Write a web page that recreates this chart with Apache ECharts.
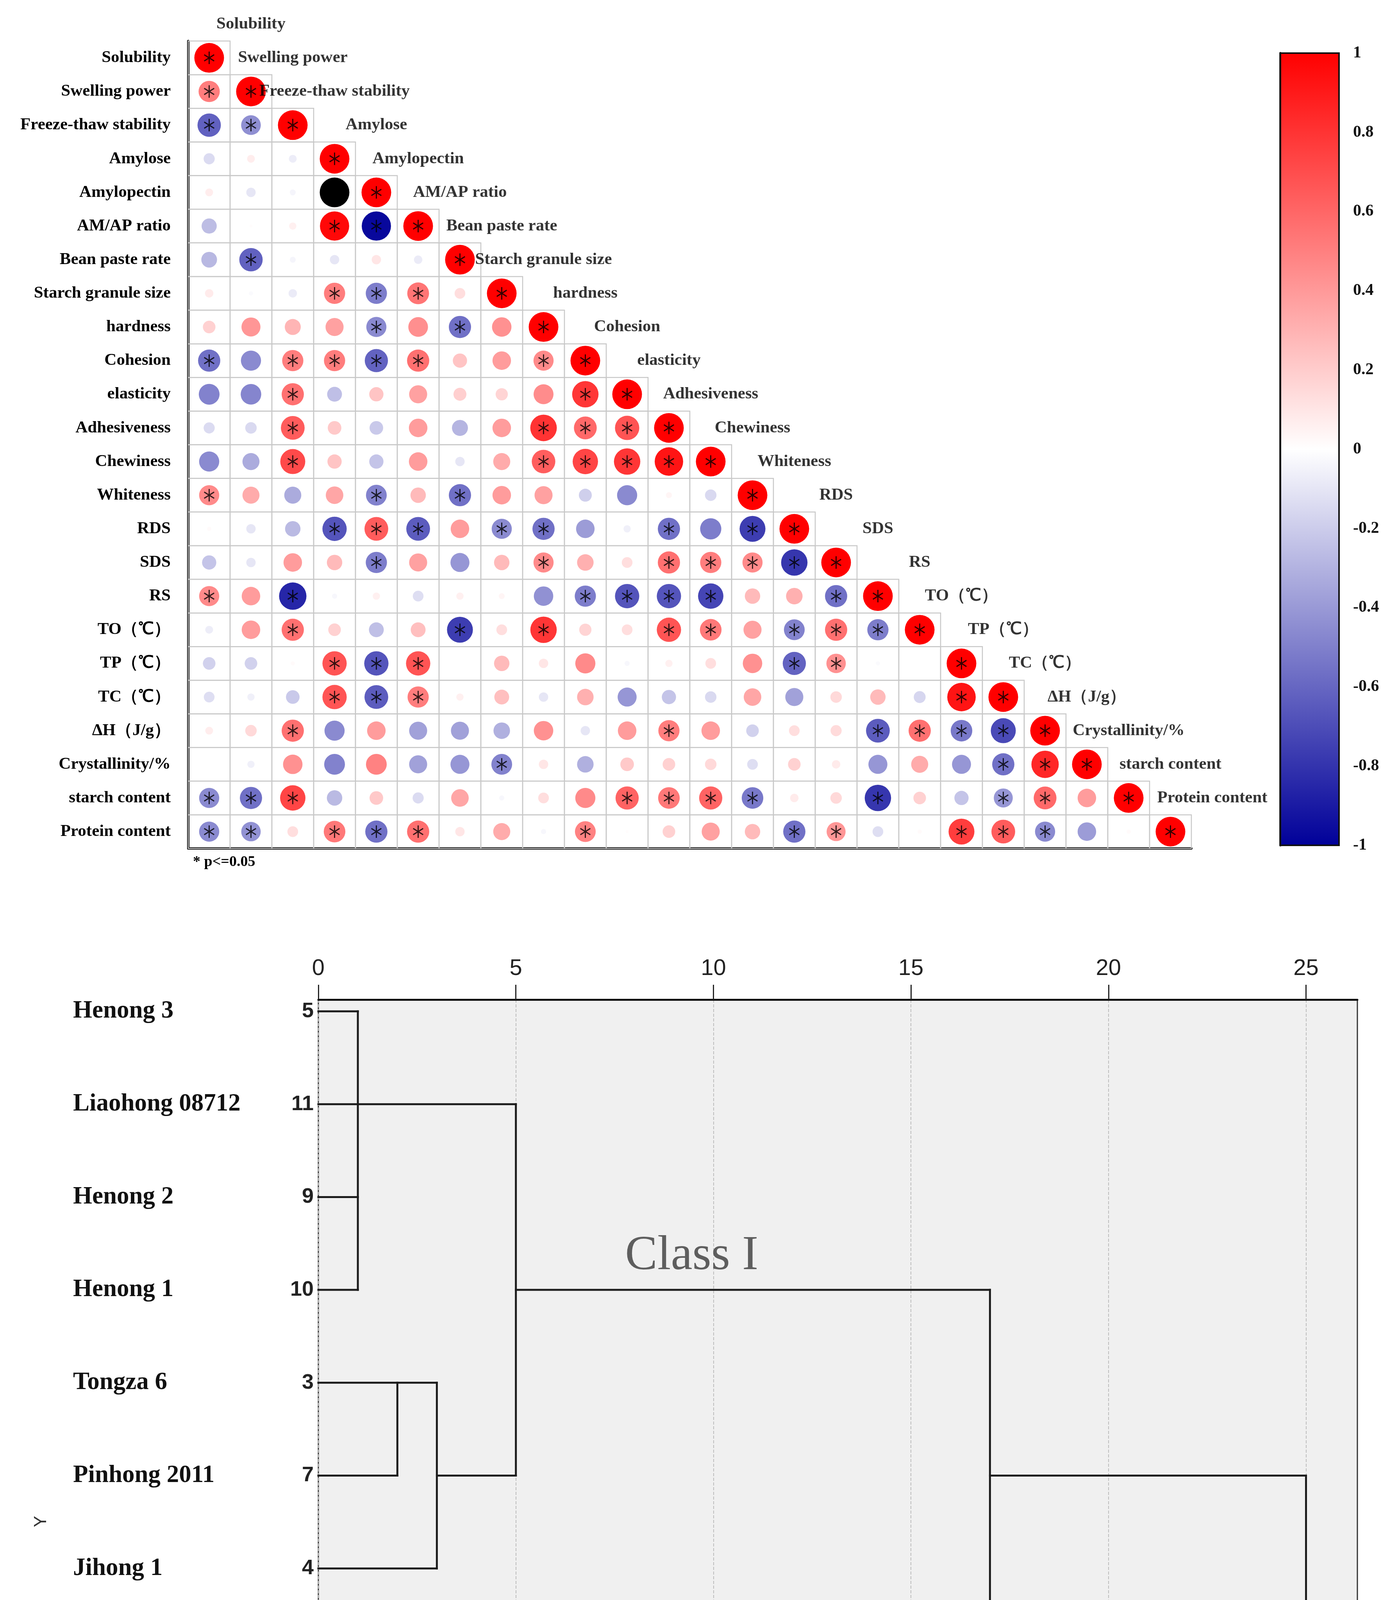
<!DOCTYPE html>
<html><head><meta charset="utf-8">
<script src="https://cdn.jsdelivr.net/npm/echarts@6/dist/echarts.min.js"></script>
<style>html,body{margin:0;padding:0;background:#fff}#c{width:3579px;height:5278px}</style>
</head><body><div id="c"></div>
<script>
// ---------- correlation matrix data ----------
const variables = ['Solubility','Swelling power','Freeze-thaw stability','Amylose','Amylopectin','AM/AP ratio',
  'Bean paste rate','Starch granule size','hardness','Cohesion','elasticity','Adhesiveness','Chewiness',
  'Whiteness','RDS','SDS','RS','TO（℃）','TP（℃）','TC（℃）','ΔH（J/g）','Crystallinity/%','starch content','Protein content'];

// row i holds correlations with columns 0..i-1 (diagonal = 1)
const corrLower = [
  [],
  [0.51],
  [-0.62,-0.44],
  [-0.14,0.07,-0.07],
  [0.07,-0.1,-0.04,-1],
  [-0.26,0.01,0.06,0.97,-0.97],
  [-0.28,-0.62,-0.04,-0.1,0.1,-0.08],
  [0.08,-0.02,-0.08,0.51,-0.51,0.54,0.13],
  [0.18,0.41,0.29,0.37,-0.46,0.44,-0.56,0.43],
  [-0.56,-0.46,0.51,0.51,-0.61,0.56,0.23,0.39,0.46],
  [-0.49,-0.48,0.56,-0.25,0.23,0.37,0.19,0.17,0.45,0.79],
  [-0.14,-0.15,0.64,0.21,-0.21,0.39,-0.29,0.39,0.8,0.59,0.67],
  [-0.46,-0.33,0.71,0.23,-0.23,0.39,-0.1,0.33,0.63,0.73,0.79,0.92],
  [0.46,0.33,-0.33,0.35,-0.49,0.27,-0.56,0.39,0.37,-0.19,-0.46,0.04,-0.15],
  [0.02,-0.1,-0.27,-0.67,0.64,-0.64,0.39,-0.46,-0.56,-0.39,-0.06,-0.56,-0.51,-0.76],
  [-0.23,-0.1,0.39,0.27,-0.51,0.37,-0.41,0.27,0.46,0.31,0.13,0.56,0.51,0.46,-0.79],
  [0.46,0.39,-0.85,-0.03,0.06,-0.13,0.06,0.04,-0.43,-0.51,-0.67,-0.67,-0.73,0.27,0.31,-0.56],
  [-0.07,0.39,0.56,0.18,-0.25,0.25,-0.76,0.13,0.79,0.17,0.13,0.67,0.53,0.37,-0.49,0.56,-0.51],
  [-0.18,-0.18,0.02,0.67,-0.67,0.67,0,0.27,0.1,0.46,-0.03,0.06,0.13,0.43,-0.61,0.43,-0.02,0],
  [-0.13,-0.06,-0.21,0.67,-0.64,0.51,0.06,0.25,-0.1,0.31,-0.41,-0.23,-0.15,0.35,-0.37,0.15,0.27,-0.16,0.92],
  [0.07,0.15,0.56,-0.46,0.39,-0.37,-0.37,-0.31,0.43,-0.1,0.39,0.51,0.39,-0.18,0.13,0.14,-0.64,0.56,-0.53,-0.71],
  [0,-0.06,0.43,-0.49,0.49,-0.37,-0.41,-0.49,0.1,-0.31,0.21,0.18,0.15,-0.13,0.18,0.08,-0.41,0.33,-0.41,-0.56,0.85],
  [-0.46,-0.56,0.73,-0.27,0.21,-0.14,0.35,-0.03,0.13,0.46,0.61,0.53,0.61,-0.53,0.08,0.15,-0.79,0.18,-0.23,-0.41,0.59,0.39],
  [-0.46,-0.43,0.13,0.53,-0.56,0.56,0.1,0.33,-0.03,0.49,0.01,0.18,0.37,0.27,-0.56,0.41,-0.13,0.02,0.76,0.64,-0.46,-0.39,0.02]
];
// 1 = p<=0.05 for (row i, col j<i); diagonal always marked
const sigLower = [
  '', '1', '11', '000', '0000', '00011', '010000', '0001110', '00001010', '101111001', '0010000001',
  '00100000111', '001000001111', '1000101000000', '00011101100101', '000010001001111',
  '1010000001111001', '00100010100110111', '000111000000001100', '0001110000000000001',
  '00100000000100001111', '000000010000000000011', '1110000000111100100110', '11011100010000110011100'
];
const colorbarMin = -1, colorbarMax = 1, colorbarStep = 0.2;
const pNote = '* p<=0.05';

// ---------- dendrogram data ----------
const leafNames = ['Henong 3','Liaohong 08712','Henong 2','Henong 1','Tongza 6','Pinhong 2011','Jihong 1',
  'Tangshanhong','Jihong 9218','Baohong 876','Yuhong 2','Baihong 2'];
const leafIds = [5,11,9,10,3,7,4,1,6,8,12,2];
// leaves referenced by their row position, h = rescaled joining distance
const tree = {h:25, c:[
  {h:17, c:[
    {h:5, c:[{h:1, c:[0,1,2,3]}, {h:3, c:[{h:2, c:[4,5]}, 6]}]},
    {h:8, c:[7,8]}
  ]},
  {h:4, c:[{h:1, c:[9,10]}, 11]}
]};
const distanceTicks = [0,5,10,15,20,25];
const classNames = ['Class I','Class II','Class III'];
const classAnchors = [[9.45,2.64],[9.7,6.6],[9.8,9.64]];

// ---------- derived ----------
const SERIF = "'Liberation Serif','Times New Roman',serif";
const SANS = "'Liberation Sans',Arial,sans-serif";
const N = variables.length;
function scaleColor(v){
  const mid=[255,255,255], hi=[255,0,0], lo=[0,0,153];
  const t = Math.min(1, Math.abs(v)), end = v >= 0 ? hi : lo;
  const c = mid.map((m,k)=>Math.round(m + (end[k]-m)*t));
  return 'rgb(' + c.join(',') + ')';
}
function circleColor(v){ return v <= -0.999 ? '#000000' : scaleColor(v); }
const cellData = [], circleData = [], starData = [], diagData = [];
for (let i = 0; i < N; i++) {
  for (let j = 0; j < i; j++) {
    cellData.push([j, i]);
    circleData.push([j, i, corrLower[i][j]]);
    if (sigLower[i][j] === '1') starData.push([j, i]);
  }
  cellData.push([i, i]);
  circleData.push([i, i, 1]);
  starData.push([i, i]);
  diagData.push([i, i]);
}
const segs = [];
function layout(node){
  if (typeof node === 'number') return {x:0, y:node};
  const ch = node.c.map(layout);
  ch.forEach(c => segs.push([c.x, c.y, node.h, c.y]));
  const ys = ch.map(c=>c.y), lo = Math.min(...ys), hi = Math.max(...ys);
  segs.push([node.h, lo, node.h, hi]);
  return {x: node.h, y: Math.floor((lo+hi)/2)};
}
layout(tree);
const colorbarTicks = [];
for (let v = colorbarMin; v <= colorbarMax + 1e-9; v += colorbarStep) colorbarTicks.push(+v.toFixed(1));

// layout geometry (pixels)
const G0 = {left:482, top:105, width:2568, height:2067};
const cellW = G0.width / N, cellH = G0.height / N;
const maxD = 76;
const starPath = 'path://M-0.1,-1 L0.1,-1 L0.1,1 L-0.1,1 Z M-0.916,-0.413 L-0.816,-0.587 L0.916,0.413 L0.816,0.587 Z M0.816,-0.587 L0.916,-0.413 L-0.816,0.587 L-0.916,0.413 Z';

const chart = echarts.init(document.getElementById('c'), null, {renderer:'canvas'});
chart.setOption({
  backgroundColor:'#ffffff',
  animation:false,
  title:{text:pNote, left:489, top:2183, textStyle:{fontFamily:SERIF, fontWeight:'bold', fontSize:38, color:'#000'}},
  grid:[
    {left:G0.left, top:G0.top, width:G0.width, height:G0.height},
    {left:3278, top:136, width:150, height:2028},
    {left:815, top:2559, width:2660, height:2672, show:true, backgroundColor:'#f0f0f0', borderColor:'#333', borderWidth:3}
  ],
  xAxis:[
    {gridIndex:0, type:'category', data:variables, boundaryGap:true,
     axisLine:{show:true, onZero:false, lineStyle:{color:'#000', width:6}}, axisTick:{show:false}, axisLabel:{show:false}, splitLine:{show:false}},
    {gridIndex:1, type:'value', min:0, max:1, show:false},
    {gridIndex:2, type:'value', position:'top', min:0, max:26.3, interval:5,
     axisLine:{show:true, onZero:false, lineStyle:{color:'#111', width:5}},
     axisTick:{show:true, length:38, customValues:distanceTicks, lineStyle:{color:'#222', width:3}},
     axisLabel:{customValues:distanceTicks, margin:50, fontFamily:SANS, fontSize:58, color:'#222'},
     splitLine:{show:true, lineStyle:{type:'dashed', color:'#bdbdbd', width:2}}}
  ],
  yAxis:[
    {gridIndex:0, type:'category', data:variables, inverse:true,
     axisLine:{show:true, onZero:false, lineStyle:{color:'#000', width:6}}, axisTick:{show:false},
     axisLabel:{margin:45, fontFamily:SERIF, fontWeight:'bold', fontSize:43, color:'#000'}, splitLine:{show:false}},
    {gridIndex:1, type:'value', position:'right', min:colorbarMin, max:colorbarMax, interval:colorbarStep,
     axisLine:{show:true, lineStyle:{color:'#333', width:6}},
     axisTick:{show:true, length:40, lineStyle:{color:'#111', width:3}},
     axisLabel:{margin:36, fontFamily:SERIF, fontWeight:'bold', fontSize:42, color:'#111',
       formatter:v=>String(+v.toFixed(1))},
     splitLine:{show:false}},
    {gridIndex:2, type:'value', inverse:true, min:-0.126, max:11.114,
     name:'Y', nameLocation:'middle', nameRotate:90, nameGap:687,
     nameTextStyle:{fontFamily:SANS, fontSize:44, color:'#333'},
     axisLine:{show:false}, axisTick:{show:false}, splitLine:{show:false},
     axisLabel:{customValues:leafIds.map((_,k)=>k), margin:12,
       formatter:v=>{const k=Math.round(v); return '{n|'+leafNames[k]+'}{v|'+leafIds[k]+'}';},
       rich:{
         n:{width:560, align:'left', fontFamily:SERIF, fontWeight:'bold', fontSize:63, color:'#111'},
         v:{width:56, align:'right', fontFamily:SANS, fontWeight:'bold', fontSize:54, color:'#222'}
       }}}
  ],
  series:[
    {type:'custom', xAxisIndex:0, yAxisIndex:0, data:cellData, z:1, silent:true,
     renderItem:(params, api)=>{
       const c = api.coord([api.value(0), api.value(1)]), s = api.size([1,1]);
       return {type:'rect', shape:{x:c[0]-s[0]/2, y:c[1]-s[1]/2, width:s[0], height:s[1]},
         style:{fill:null, stroke:'#c8c8c8', lineWidth:2.5}};
     }},
    {type:'scatter', xAxisIndex:0, yAxisIndex:0, data:circleData, z:2, symbol:'circle',
     symbolSize:val=>maxD*Math.sqrt(Math.abs(val[2])),
     itemStyle:{color:p=>circleColor(p.value[2]), opacity:1}},
    {type:'scatter', xAxisIndex:0, yAxisIndex:0, data:starData, z:3, symbol:starPath,
     symbolSize:[27,32], itemStyle:{color:'#000'}},
    {type:'scatter', xAxisIndex:0, yAxisIndex:0, data:diagData, z:4, symbolSize:0,
     label:{show:true, position:'inside', offset:[cellW, -cellH],
       formatter:p=>variables[p.value[0]],
       fontFamily:SERIF, fontWeight:'bold', fontSize:43, color:'#000'}},
    {type:'custom', xAxisIndex:1, yAxisIndex:1, data:[[0]], z:2, silent:true,
     renderItem:(params, api)=>{
       const p1 = api.coord([0, colorbarMax]), p2 = api.coord([1, colorbarMin]);
       const stops = colorbarTicks.slice().reverse().map(v=>({
         offset:(colorbarMax - v)/(colorbarMax - colorbarMin), color:scaleColor(v)}));
       return {type:'rect', shape:{x:p1[0], y:p1[1], width:p2[0]-p1[0], height:p2[1]-p1[1]},
         style:{fill:new echarts.graphic.LinearGradient(0,0,0,1,stops), stroke:'#111', lineWidth:4}};
     }},
    {type:'custom', xAxisIndex:2, yAxisIndex:2, data:segs, z:3, silent:true,
     renderItem:(params, api)=>{
       const a = api.coord([api.value(0), api.value(1)]), b = api.coord([api.value(2), api.value(3)]);
       return {type:'line', shape:{x1:a[0], y1:a[1], x2:b[0], y2:b[1]},
         style:{stroke:'#1c1c1c', lineWidth:5, lineCap:'square'}};
     }},
    {type:'scatter', xAxisIndex:2, yAxisIndex:2, z:4, symbolSize:0,
     data:classNames.map((n,k)=>({name:n, value:classAnchors[k]})),
     label:{show:true, position:'inside', formatter:'{b}', fontFamily:SERIF, fontSize:124, color:'#3a3a3a'}}
  ]
});
</script></body></html>
